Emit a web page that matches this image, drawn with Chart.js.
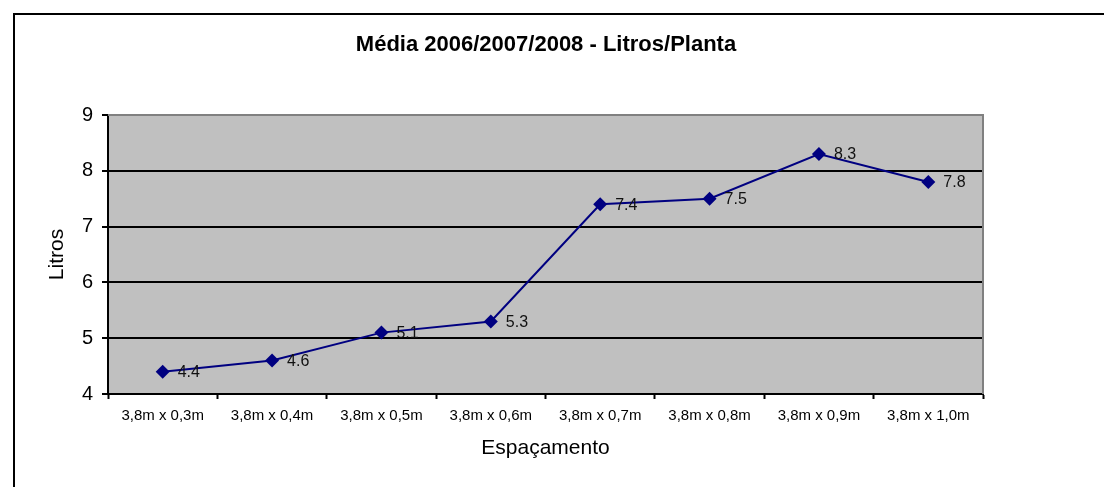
<!DOCTYPE html>
<html>
<head>
<meta charset="utf-8">
<script src="https://cdn.jsdelivr.net/npm/chart.js@4.4.0/dist/chart.umd.min.js"></script>
<style>
  body { margin: 0; background: #fff; }
  #wrap { position: relative; width: 1104px; height: 487px; }
</style>
</head>
<body>
<div id="wrap"><canvas id="myChart" width="1104" height="487"></canvas></div>
<script>
// data
var espacamento = ["3,8m x 0,3m", "3,8m x 0,4m", "3,8m x 0,5m", "3,8m x 0,6m", "3,8m x 0,7m", "3,8m x 0,8m", "3,8m x 0,9m", "3,8m x 1,0m"];
var litros = [4.4, 4.6, 5.1, 5.3, 7.4, 7.5, 8.3, 7.8];
var yTicks = [4, 5, 6, 7, 8, 9];
var chartTitle = 'Média 2006/2007/2008 - Litros/Planta';

var fontFam = '"Liberation Sans", Arial, sans-serif';

//plot background, plot border, outer frame, title and value labels
var framePlugin = {
  id: 'frame',
  beforeDraw: function(chart){
    var ctx = chart.ctx;
    var a = chart.chartArea;
    ctx.save();
    ctx.fillStyle = '#fff';
    ctx.fillRect(0, 0, chart.width, chart.height);
    // outer frame, runs off the right and bottom
    ctx.strokeStyle = '#000';
    ctx.lineWidth = 2;
    ctx.strokeRect(14, 14, chart.width + 20, chart.height + 20);
    ctx.fillStyle = '#C0C0C0';
    ctx.fillRect(a.left, a.top, a.right - a.left, a.bottom - a.top);
    // title, centred on the frame and not on the plot
    ctx.fillStyle = '#000';
    ctx.font = 'bold 22px ' + fontFam;
    ctx.textAlign = 'center';
    ctx.textBaseline = 'middle';
    ctx.fillText(chartTitle, 546, 45);
    ctx.restore();
  },
  afterDatasetsDraw: function(chart){
    var ctx = chart.ctx;
    var a = chart.chartArea;
    ctx.save();
    ctx.strokeStyle = '#808080';
    ctx.lineWidth = 2;
    ctx.beginPath();
    ctx.moveTo(a.left, a.top);
    ctx.lineTo(a.right, a.top);
    ctx.lineTo(a.right, a.bottom);
    ctx.stroke();
    //value labels right of the markers
    var meta = chart.getDatasetMeta(0);
    ctx.font = '16px ' + fontFam;
    ctx.fillStyle = '#111';
    ctx.textAlign = 'left';
    ctx.textBaseline = 'middle';
    meta.data.forEach(function(pt, i){
      ctx.fillText(String(litros[i]), pt.x + 15, pt.y + 1);
    });
    ctx.restore();
  }
};

var ctx = document.getElementById('myChart').getContext('2d');
var myChart = new Chart(ctx, {
  type: 'line',
  data: {
    labels: espacamento,
    datasets: [{
      label: 'Litros',
      data: litros,
      borderColor: '#000080',
      backgroundColor: '#000080',
      borderWidth: 2,
      pointStyle: 'rectRot',
      pointRadius: 7,
      pointBorderWidth: 0,
      tension: 0
    }]
  },
  options: {
    responsive: false,
    animation: false,
    layout: { padding: { left: 0, right: 121, top: 115, bottom: 0 } },
    plugins: {
      legend: { display: false },
      tooltip: { enabled: false },
      title: { display: false }
    },
    scales: {
      x: {
        offset: true,
        grid: { offset: true, drawOnChartArea: false, drawTicks: true, tickLength: 5, tickColor: '#000', tickWidth: 2 },
        border: { color: '#000', width: 2 },
        ticks: { color: '#000', padding: 8, maxRotation: 0, autoSkip: false,
          font: { family: fontFam, size: 15 } },
        title: { display: true, text: 'Espaçamento', color: '#000',
          font: { family: fontFam, size: 21 },
          padding: { top: 0, bottom: 26 } },
        afterFit: function(scale){ scale.height = 93; }
      },
      y: {
        min: 4,
        max: 9,
        afterBuildTicks: function(scale){
          scale.ticks = yTicks.map(function(v){ return { value: v }; });
        },
        grid: {
          color: function(c){ return c.tick && c.tick.value === 9 ? '#808080' : '#000'; },
          lineWidth: 2,
          tickLength: 6,
          tickColor: '#000',
          tickWidth: 2
        },
        border: { color: '#000', width: 2 },
        ticks: { color: '#000', padding: 9,
          font: { family: fontFam, size: 20 } },
        title: { display: true, text: 'Litros', color: '#000',
          font: { family: fontFam, size: 21 },
          padding: { top: 45, bottom: 0 } },
        afterFit: function(scale){ scale.width = 108; }
      }
    }
  },
  plugins: [framePlugin]
});
</script>
</body>
</html>
